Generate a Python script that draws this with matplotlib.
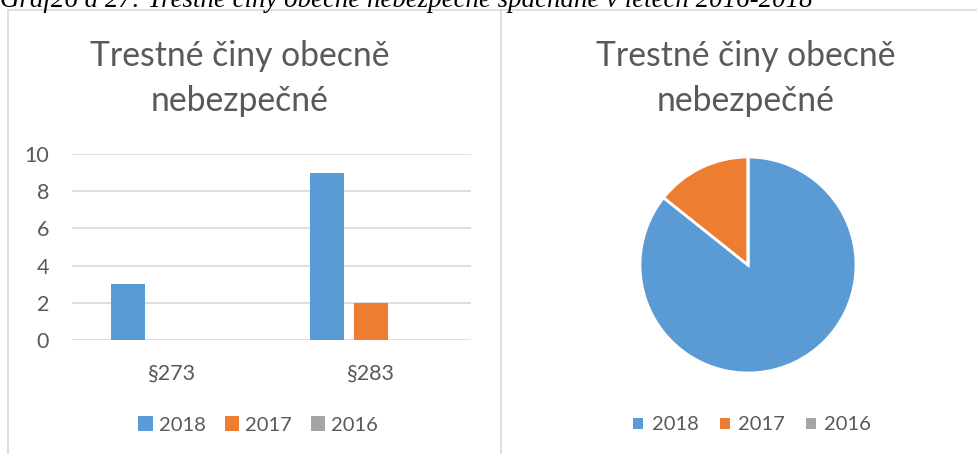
import matplotlib
matplotlib.use("Agg")
import matplotlib.pyplot as plt
from matplotlib.patches import Patch
from matplotlib.lines import Line2D
import numpy as np

# data
categories = ["§273", "§283"]
years = ["2018", "2017", "2016"]
vals_2018 = [3, 9]
vals_2017 = [0, 2]
vals_2016 = [0, 0]
pie_totals = [sum(vals_2018), sum(vals_2017), sum(vals_2016)]
title_lines = ["Trestné činy obecně", "nebezpečné"]

colors = ["#5B9BD5", "#ED7D31", "#A5A5A5"]
txt = "#595959"
font = ["Lato", "DejaVu Sans"]

plt.rcParams["font.family"] = font

W, H = 978, 454
fig = plt.figure(figsize=(W / 100, H / 100), dpi=100)


def box(x0, y0, x1, y1):
    # pixel coords (top-left origin) -> figure fraction
    return [x0 / W, 1 - y1 / H, (x1 - x0) / W, (y1 - y0) / H]


# frame lines of the word document
fig.add_artist(Line2D([8 / W, 1], [1 - 10 / H] * 2, color="#D9D9D9", lw=1.2))
fig.add_artist(Line2D([8 / W] * 2, [0, 1 - 10 / H], color="#D9D9D9", lw=1.2))
fig.add_artist(Line2D([501 / W] * 2, [0, 1 - 10 / H], color="#D9D9D9", lw=1.2))

# cropped caption at the top
fig.text(0, 1 - 7 / H, "Graf26 a 27: Trestné činy obecně nebezpečné spáchané v letech 2016-2018",
         family="Liberation Serif", style="italic", fontsize=19.4, va="baseline", ha="left")


def title(xc):
    fig.text(xc / W, 1 - 66 / H, title_lines[0], ha="center", va="baseline",
             fontsize=24.3, color=txt)
    fig.text(xc / W, 1 - 111 / H, title_lines[1], ha="center", va="baseline",
             fontsize=24.3, color=txt)


# bar chart
ax = fig.add_axes(box(72, 154, 471, 340))
x = np.arange(len(categories))
w = 0.17
step = 0.22
for i, (vals, c) in enumerate(zip([vals_2018, vals_2017, vals_2016], colors)):
    ax.bar(x + (i - 1) * step, vals, width=w, color=c, zorder=3)
ax.set_xlim(-0.5, 1.5)
ax.set_ylim(0, 10)
ax.set_yticks(range(0, 11, 2))
ax.set_xticks(x)
ax.set_xticklabels(categories)
ax.grid(axis="y", color="#D9D9D9", lw=1.2, zorder=0)
for s in ax.spines.values():
    s.set_visible(False)
ax.tick_params(axis="both", length=0, labelsize=15.5, colors=txt)
ax.tick_params(axis="y", pad=16.5)
ax.tick_params(axis="x", pad=17)

title(240)

handles = [Patch(facecolor=c, edgecolor="none") for c in colors]
fig.legend(handles, years, loc="center", bbox_to_anchor=(258 / W, 1 - 425 / H), ncol=3,
           frameon=False, fontsize=14.5, labelcolor=txt, handlelength=0.7, handleheight=0.7,
           handletextpad=0.3, columnspacing=0.95)

# pie chart
pax = fig.add_axes(box(640, 157, 856, 373))
pax.pie(pie_totals, colors=colors, startangle=90, counterclock=False,
        wedgeprops=dict(edgecolor="white", linewidth=2))
pax.set_xlim(-1.0, 1.0)
pax.set_ylim(-1.0, 1.0)
pax.set_aspect("equal")

title(746)

fig.legend(handles, years, loc="center", bbox_to_anchor=(752 / W, 1 - 425 / H), ncol=3,
           frameon=False, fontsize=14.5, labelcolor=txt, handlelength=0.5, handleheight=0.5,
           handletextpad=0.4, columnspacing=1.05)

fig.savefig("out.png", dpi=100)
